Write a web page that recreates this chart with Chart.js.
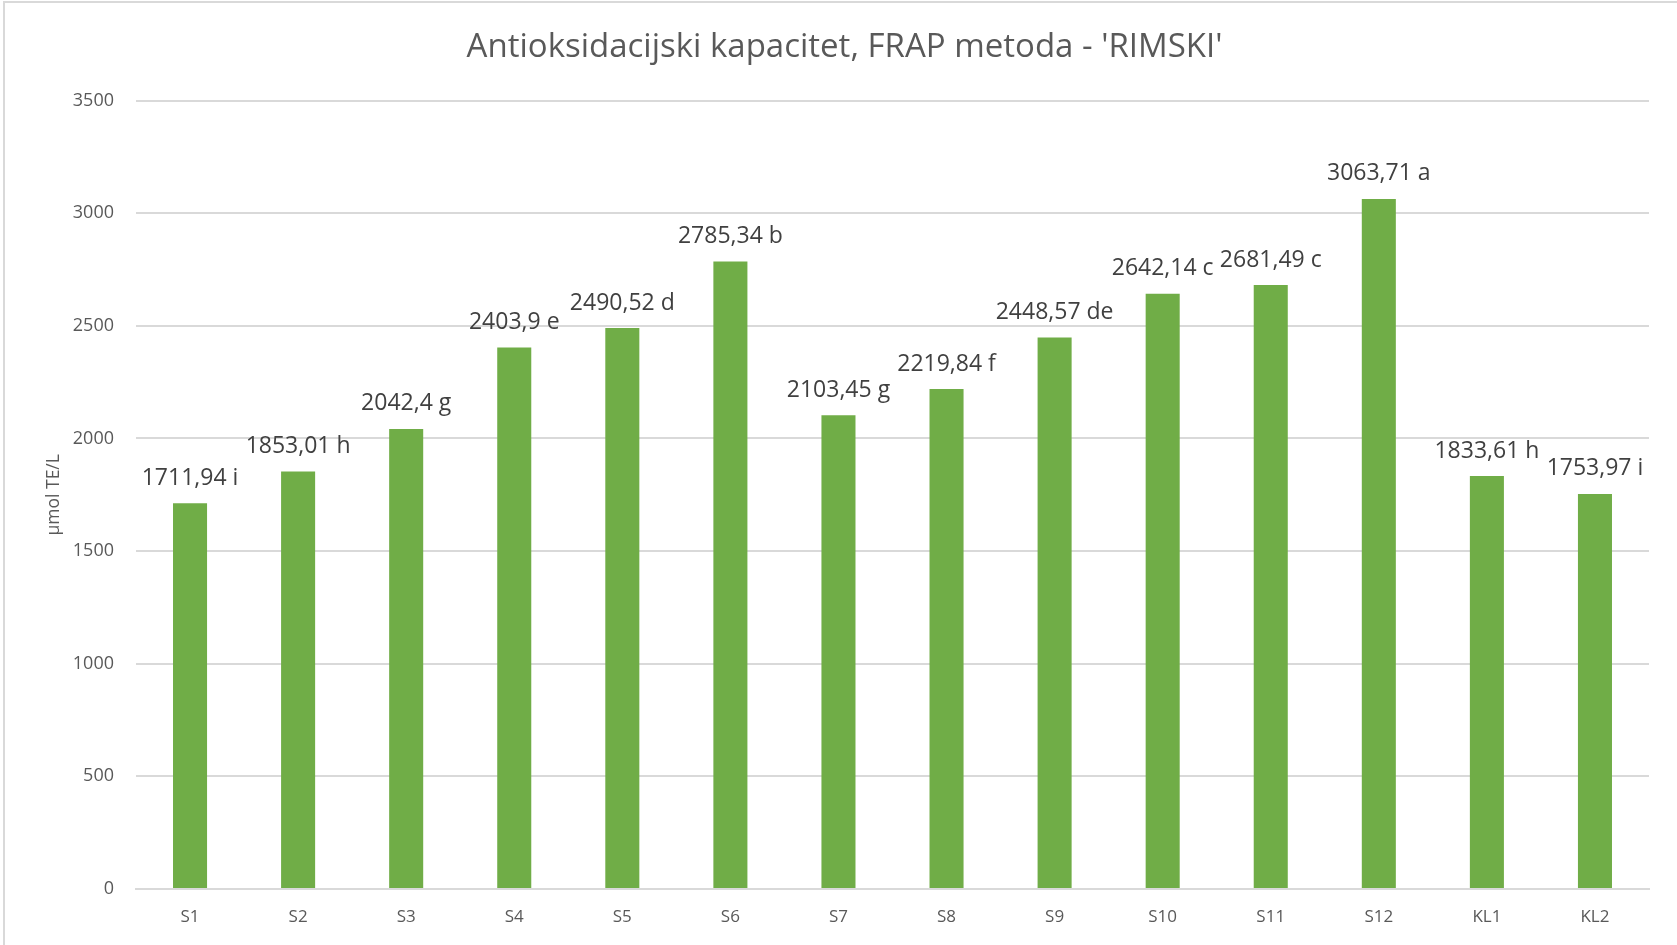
<!DOCTYPE html>
<html>
<head>
<meta charset="utf-8">
<script src="https://cdn.jsdelivr.net/npm/chart.js@4.4.1/dist/chart.umd.min.js"></script>
<style>
  html, body { margin: 0; padding: 0; background: #fff; }
  #wrap { position: relative; width: 1677px; height: 945px; }
  #frame { position: absolute; left: 3px; top: 1px; right: -10px; bottom: -10px; border: 2px solid #d9d9d9; pointer-events: none; }
</style>
</head>
<body>
<div id="wrap">
  <canvas id="chart" width="1677" height="945"></canvas>
  <div id="frame"></div>
</div>
<script>
// Sample names, FRAP values and significance letters
var samples = ['S1', 'S2', 'S3', 'S4', 'S5', 'S6', 'S7', 'S8', 'S9', 'S10', 'S11', 'S12', 'KL1', 'KL2'];
var frapValues = [1711.94, 1853.01, 2042.4, 2403.9, 2490.52, 2785.34, 2103.45, 2219.84, 2448.57, 2642.14, 2681.49, 3063.71, 1833.61, 1753.97];
var letters = ['i', 'h', 'g', 'e', 'd', 'b', 'g', 'f', 'de', 'c', 'c', 'a', 'h', 'i'];
var yTicks = [0, 500, 1000, 1500, 2000, 2500, 3000, 3500];

var FONT = "'Open Sans', sans-serif";

// draws "value letter" above each bar
var barLabels = {
    id: 'barLabels',
    afterDatasetsDraw: function (chart) {
        var ctx = chart.ctx;
        var meta = chart.getDatasetMeta(0);
        ctx.save();
        ctx.font = '23px ' + FONT;
        ctx.fillStyle = '#404040';
        ctx.textAlign = 'center';
        ctx.textBaseline = 'middle';
        meta.data.forEach(function (bar, i) {
            var txt = String(frapValues[i]).replace('.', ',') + ' ' + letters[i];
            ctx.fillText(txt, bar.x, bar.y - 25);
        });
        ctx.restore();
    }
};

new Chart(document.getElementById('chart'), {
    type: 'bar',
    data: {
        labels: samples,
        datasets: [{
            label: 'FRAP',
            data: frapValues,
            backgroundColor: '#70ad47',
            borderWidth: 0,
            categoryPercentage: 1,
            barPercentage: 0.315
        }]
    },
    options: {
        responsive: false,
        animation: false,
        layout: { padding: { left: 40, right: 28, top: 10, bottom: 0 } },
        plugins: {
            legend: { display: false },
            tooltip: { enabled: false },
            title: {
                display: true,
                text: "Antioksidacijski kapacitet, FRAP metoda - 'RIMSKI'",
                color: '#595959',
                font: { family: FONT, size: 33, weight: 'normal' },
                padding: { top: 18, bottom: 33 }
            }
        },
        scales: {
            x: {
                grid: { display: false, drawTicks: false },
                border: { color: '#d9d9d9', width: 2 },
                ticks: { color: '#595959', font: { family: FONT, size: 17 }, padding: 18 },
                afterFit: function (scale) { scale.height = 56; }
            },
            y: {
                min: 0,
                max: 3500,
                afterBuildTicks: function (scale) {
                    scale.ticks = yTicks.map(function (v) { return { value: v }; });
                },
                grid: { color: '#d9d9d9', lineWidth: 2, drawTicks: false },
                border: { display: false },
                ticks: {
                    color: '#595959',
                    font: { family: FONT, size: 18 },
                    padding: 22,
                    callback: function (v) { return String(v); }
                },
                title: {
                    display: true,
                    text: 'µmol TE/L',
                    color: '#595959',
                    font: { family: FONT, size: 17.5 },
                    padding: { top: 4, bottom: 0 }
                },
                afterFit: function (scale) { scale.width = 96; }
            }
        }
    },
    plugins: [barLabels]
});
</script>
</body>
</html>
